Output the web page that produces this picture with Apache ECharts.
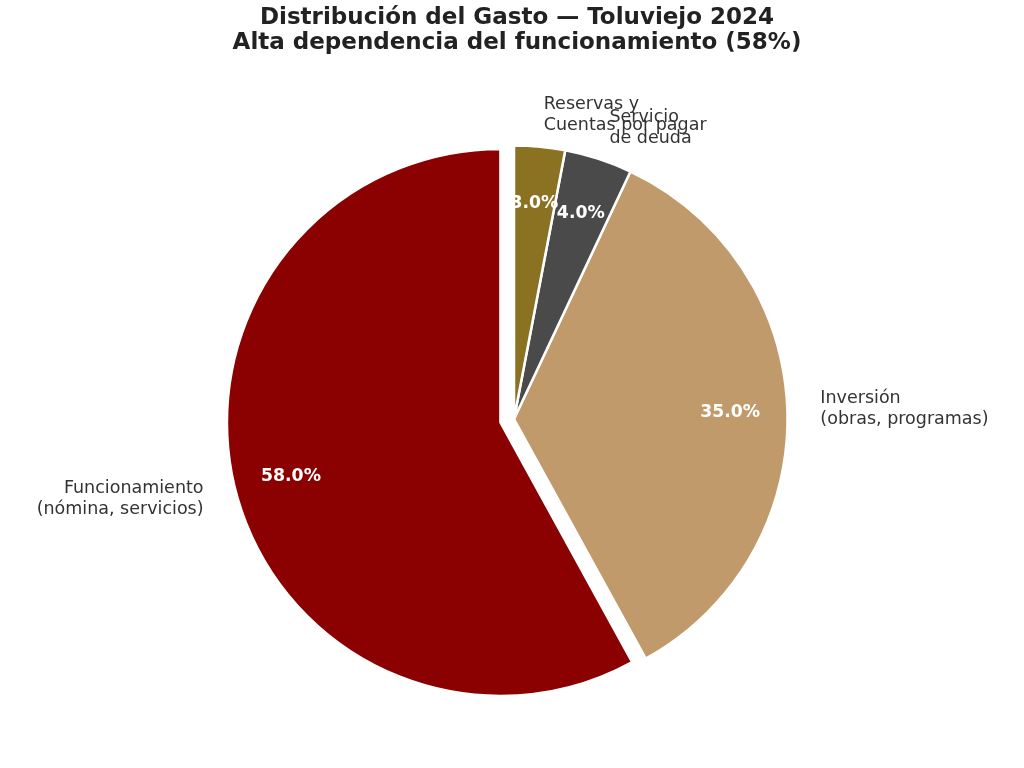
<!DOCTYPE html>
<html>
<head>
<meta charset="utf-8">
<script src="https://cdn.jsdelivr.net/npm/echarts@6/dist/echarts.min.js"></script>
<style>
  html, body { margin: 0; padding: 0; background: #ffffff; }
  #chart { width: 1024px; height: 768px; }
</style>
</head>
<body>
<div id="chart"></div>
<script>
const categories = [
  'Funcionamiento\n(nómina, servicios)',
  'Inversión\n(obras, programas)',
  'Servicio\nde deuda',
  'Reservas y\nCuentas por pagar'
]
const values = [58, 35, 4, 3]
const colors = ['#8B0000', '#C19A6B', '#4A4A4A', '#8B7122']
const exploded = [true, false, false, false]

const CENTER = [514, 419]
const R = 273.5
const FONT = '"DejaVu Sans", sans-serif'

const chart = echarts.init(document.getElementById('chart'))

// both pies share angles and the exploded slice
const pieCommon = {
  type: 'pie',
  center: CENTER,
  startAngle: 90,
  clockwise: false,
  selectedMode: 'multiple',
  selectedOffset: 14,
  avoidLabelOverlap: false,
  labelLayout: { hideOverlap: false },
  silent: true,
  emphasis: { disabled: true }
}

chart.setOption({
  backgroundColor: '#ffffff',
  animation: false,
  title: {
    text: 'Distribución del Gasto — Toluviejo 2024\nAlta dependencia del funcionamiento (58%)',
    left: 512,
    top: 1,
    textAlign: 'center',
    textStyle: {
      fontFamily: FONT,
      fontSize: 23,
      fontWeight: 'bold',
      color: '#222222',
      lineHeight: 25
    }
  },
  series: [
    {
      ...pieCommon,
      radius: [0, R],
      itemStyle: {
        borderColor: '#ffffff',
        borderWidth: 2.5
      },
      label: {
        show: true,
        position: 'outside',
        fontFamily: FONT,
        fontSize: 17.5,
        lineHeight: 21,
        color: '#333333',
        distanceToLabelLine: 1
      },
      labelLine: { show: false, length: 32, length2: 0 },
      data: categories.map((name, i) => ({
        name,
        value: values[i],
        selected: exploded[i],
        itemStyle: { color: colors[i] }
      }))
    },
    {
      // transparent ring, only carries the percentage labels
      ...pieCommon,
      radius: [153, R],
      itemStyle: { color: 'rgba(0,0,0,0)', borderWidth: 0 },
      label: {
        show: true,
        position: 'inside',
        fontFamily: FONT,
        fontSize: 17.3,
        fontWeight: 'bold',
        color: '#ffffff',
        formatter: (p) => p.percent.toFixed(1) + '%'
      },
      labelLine: { show: false },
      data: categories.map((name, i) => ({
        name,
        value: values[i],
        selected: exploded[i],
        itemStyle: { color: 'rgba(0,0,0,0)' }
      }))
    }
  ]
})
</script>
</body>
</html>
